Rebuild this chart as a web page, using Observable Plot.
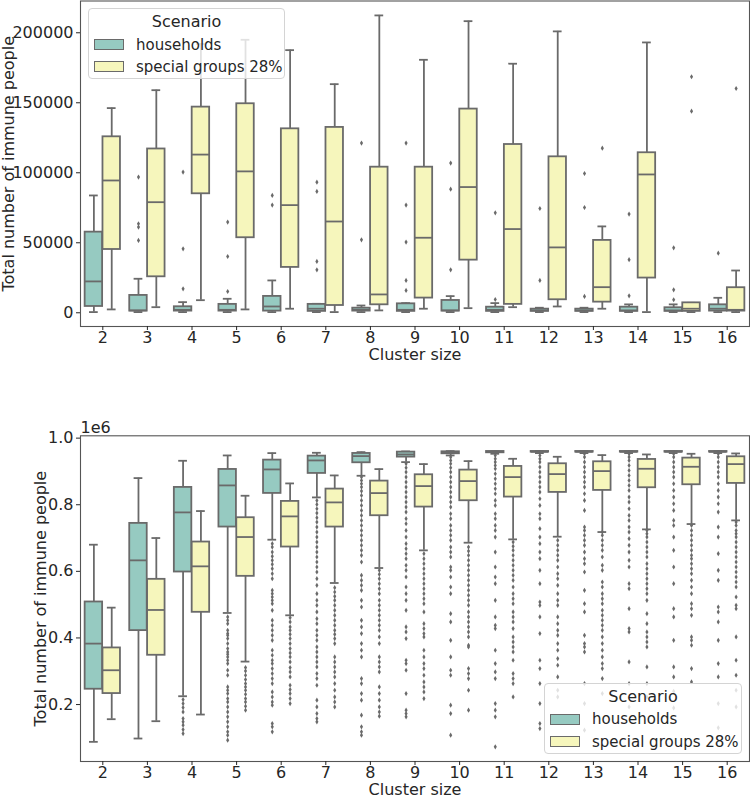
<!DOCTYPE html>
<html>
<head>
<meta charset="utf-8">
<script src="https://cdn.jsdelivr.net/npm/d3@7"></script>
<script src="https://cdn.jsdelivr.net/npm/@observablehq/plot@0.6"></script>
<style>
  body { margin: 0; background: #fff; font-family: "DejaVu Sans", sans-serif; }
  #wrap { position: relative; width: 750px; height: 795px; overflow: hidden; }
  #wrap svg { position: absolute; left: 0; }
  .legend { position: absolute; background: rgba(255,255,255,0.8); border: 1px solid #d4d4d4; border-radius: 4px; box-sizing: border-box; color: #262626; font-size: 15px; }
  .legend .title { position: absolute; left: 0; right: 0; text-align: center; line-height: 18px; font-size: 16px; }
  .legend .sw { position: absolute; width: 30px; height: 11px; box-sizing: border-box; border: 1px solid #6a6a6a; }
  .legend .lab { position: absolute; line-height: 18px; white-space: nowrap; }
</style>
</head>
<body>
<div id="wrap"></div>
<script>
// ---------- data ----------
const clusters = [2, 3, 4, 5, 6, 7, 8, 9, 10, 11, 12, 13, 14, 15, 16];
const scenarios = ["households", "special groups 28%"];
const scenarioColors = ["#96cac1", "#f6f6bc"];
const topYTicks = [0, 50000, 100000, 150000, 200000];
const bottomYTicks = [0.2, 0.4, 0.6, 0.8, 1.0];

// top panel: [whisker low, q1, median, q3, whisker high]
const topHouseholds = [
  [500, 4500, 22400, 57600, 83800],
  [500, 1200, 1700, 12400, 24300],
  [500, 1200, 2100, 4300, 7600],
  [500, 1200, 2100, 6000, 10000],
  [500, 1200, 4500, 11700, 23100],
  [500, 1000, 2900, 6000, 6400],
  [500, 1200, 2100, 3300, 5200],
  [500, 1000, 2100, 6400, 6900],
  [500, 1200, 1700, 8800, 11900],
  [500, 1000, 2100, 4000, 6900],
  [500, 1000, 1700, 2600, 3600],
  [500, 1000, 1700, 2600, 3600],
  [500, 1000, 1700, 4000, 6000],
  [500, 1000, 1700, 3600, 6000],
  [500, 1200, 2900, 5700, 10700]
];
const topSpecial = [
  [2400, 45200, 94500, 125700, 146200],
  [4000, 25700, 79000, 117000, 159000],
  [9000, 85000, 113000, 146900, 192000],
  [2400, 53600, 101000, 149300, 195000],
  [2900, 32400, 76900, 131400, 187600],
  [500, 5200, 65200, 132400, 163300],
  [1700, 5700, 13100, 104000, 212400],
  [2900, 10500, 53600, 104000, 180700],
  [3300, 37600, 89800, 145500, 208300],
  [4000, 6000, 59800, 120200, 177900],
  [4500, 9300, 46700, 111400, 201000],
  [2900, 7600, 18300, 51700, 61700],
  [500, 24800, 98800, 114300, 193100],
  [500, 1000, 2900, 7100, 7100],
  [500, 1200, 2100, 17900, 30200]
];
const topHouseholdsOutliers = [
  [],
  [96900, 63600, 61200, 51700],
  [100500, 45700, 17100],
  [64800, 40200, 15200],
  [83800, 76900],
  [93300, 86700, 36700, 30700],
  [121200, 52100],
  [121200, 76900, 50500, 23100, 16000],
  [106900, 88300, 30700],
  [71400, 9500],
  [74500, 23100],
  [99500, 75200, 11700],
  [70500, 37900, 12100],
  [46400, 16400, 9300],
  [42600]
];
const topSpecialOutliers = [
  [], [], [], [], [], [], [], [], [], [], [],
  [117600],
  [],
  [168600, 144000],
  [160200]
];

// bottom panel (values in units of 1e6)
const bottomHouseholds = [
  [0.088, 0.246, 0.383, 0.508, 0.680],
  [0.098, 0.422, 0.633, 0.744, 0.880],
  [0.225, 0.598, 0.777, 0.852, 0.932],
  [0.475, 0.733, 0.858, 0.906, 0.948],
  [0.695, 0.834, 0.906, 0.934, 0.955],
  [0.822, 0.894, 0.933, 0.946, 0.956],
  [0.887, 0.926, 0.946, 0.954, 0.958],
  [0.928, 0.943, 0.951, 0.958, 0.960],
  [0.948, 0.953, 0.957, 0.959, 0.961],
  [0.953, 0.956, 0.958, 0.960, 0.961],
  [0.955, 0.958, 0.959, 0.960, 0.961],
  [0.955, 0.958, 0.959, 0.960, 0.961],
  [0.955, 0.958, 0.959, 0.960, 0.961],
  [0.955, 0.958, 0.959, 0.960, 0.961],
  [0.955, 0.958, 0.959, 0.960, 0.961]
];
const bottomSpecial = [
  [0.156, 0.233, 0.303, 0.370, 0.491],
  [0.150, 0.348, 0.484, 0.576, 0.700],
  [0.170, 0.477, 0.615, 0.688, 0.781],
  [0.329, 0.585, 0.703, 0.761, 0.827],
  [0.468, 0.673, 0.765, 0.810, 0.864],
  [0.565, 0.733, 0.807, 0.847, 0.888],
  [0.610, 0.767, 0.835, 0.871, 0.907],
  [0.663, 0.793, 0.856, 0.890, 0.922],
  [0.686, 0.812, 0.871, 0.904, 0.931],
  [0.696, 0.823, 0.883, 0.915, 0.938],
  [0.704, 0.837, 0.892, 0.923, 0.944],
  [0.718, 0.843, 0.901, 0.929, 0.949],
  [0.726, 0.851, 0.908, 0.936, 0.951],
  [0.742, 0.860, 0.914, 0.940, 0.953],
  [0.753, 0.864, 0.922, 0.944, 0.954]
];
const bottomHouseholdsOutliers = [
  [],
  [],
  [0.215, 0.203, 0.191, 0.178, 0.158, 0.148, 0.138, 0.125, 0.113],
  [0.463, 0.453, 0.443, 0.423, 0.413, 0.408, 0.398, 0.383, 0.368, 0.358, 0.351, 0.343, 0.333, 0.323, 0.303, 0.288, 0.253, 0.243, 0.233, 0.218, 0.208, 0.193, 0.178, 0.163, 0.148, 0.133, 0.118, 0.108, 0.093],
  [0.683, 0.673, 0.658, 0.645, 0.633, 0.621, 0.608, 0.593, 0.578, 0.543, 0.533, 0.523, 0.513, 0.503, 0.483, 0.453, 0.438, 0.423, 0.408, 0.393, 0.363, 0.348, 0.333, 0.323, 0.308, 0.293, 0.278, 0.263, 0.238, 0.223, 0.208, 0.198, 0.143, 0.133, 0.118],
  [0.813, 0.801, 0.788, 0.775, 0.761, 0.748, 0.733, 0.718, 0.703, 0.688, 0.673, 0.658, 0.643, 0.628, 0.613, 0.598, 0.578, 0.558, 0.533, 0.513, 0.498, 0.478, 0.458, 0.443, 0.423, 0.408, 0.393, 0.373, 0.358, 0.343, 0.328, 0.313, 0.293, 0.278, 0.258, 0.213, 0.193, 0.173, 0.158, 0.148],
  [0.883, 0.873, 0.863, 0.853, 0.841, 0.828, 0.813, 0.798, 0.783, 0.768, 0.753, 0.738, 0.723, 0.708, 0.693, 0.678, 0.663, 0.648, 0.628, 0.588, 0.573, 0.558, 0.543, 0.513, 0.493, 0.453, 0.433, 0.413, 0.383, 0.363, 0.343, 0.278, 0.263, 0.233, 0.213, 0.168, 0.133, 0.118, 0.108],
  [0.923, 0.911, 0.898, 0.883, 0.868, 0.853, 0.838, 0.823, 0.808, 0.793, 0.778, 0.758, 0.743, 0.723, 0.703, 0.683, 0.668, 0.653, 0.638, 0.618, 0.603, 0.583, 0.553, 0.533, 0.513, 0.483, 0.433, 0.418, 0.398, 0.333, 0.323, 0.303, 0.233, 0.183, 0.173, 0.163],
  [0.943, 0.933, 0.923, 0.911, 0.898, 0.883, 0.868, 0.853, 0.838, 0.823, 0.808, 0.793, 0.773, 0.758, 0.738, 0.723, 0.708, 0.693, 0.673, 0.658, 0.643, 0.613, 0.603, 0.583, 0.553, 0.533, 0.473, 0.448, 0.393, 0.343, 0.303, 0.288, 0.198, 0.173, 0.108],
  [0.948, 0.938, 0.928, 0.918, 0.908, 0.893, 0.878, 0.863, 0.848, 0.833, 0.813, 0.798, 0.773, 0.758, 0.738, 0.723, 0.703, 0.658, 0.613, 0.583, 0.563, 0.513, 0.463, 0.438, 0.428, 0.363, 0.323, 0.298, 0.278, 0.203, 0.183, 0.163, 0.073],
  [0.948, 0.938, 0.928, 0.913, 0.898, 0.883, 0.868, 0.853, 0.838, 0.818, 0.798, 0.773, 0.758, 0.728, 0.703, 0.683, 0.658, 0.638, 0.603, 0.563, 0.508, 0.498, 0.463, 0.413, 0.333, 0.308, 0.263, 0.203, 0.143, 0.128],
  [0.953, 0.943, 0.928, 0.913, 0.898, 0.883, 0.868, 0.853, 0.833, 0.813, 0.783, 0.733, 0.723, 0.708, 0.693, 0.678, 0.658, 0.638, 0.623, 0.598, 0.543, 0.503, 0.478, 0.408, 0.383, 0.373, 0.358, 0.263, 0.203, 0.123],
  [0.953, 0.943, 0.933, 0.918, 0.903, 0.888, 0.873, 0.858, 0.843, 0.823, 0.808, 0.788, 0.768, 0.753, 0.733, 0.718, 0.698, 0.678, 0.658, 0.633, 0.613, 0.563, 0.548, 0.488, 0.428, 0.418, 0.328, 0.263, 0.193],
  [0.953, 0.943, 0.928, 0.913, 0.898, 0.883, 0.863, 0.843, 0.823, 0.803, 0.783, 0.753, 0.738, 0.703, 0.663, 0.613, 0.563, 0.488, 0.463, 0.393, 0.313, 0.283, 0.240, 0.190],
  [0.953, 0.943, 0.928, 0.913, 0.898, 0.883, 0.863, 0.843, 0.823, 0.803, 0.778, 0.733, 0.703, 0.653, 0.603, 0.573, 0.493, 0.478, 0.448, 0.393, 0.323, 0.283, 0.203, 0.130]
];
const bottomSpecialOutliers = [
  [],
  [],
  [],
  [0.311, 0.301, 0.288, 0.275, 0.263, 0.253, 0.243, 0.231, 0.218, 0.208, 0.195, 0.183],
  [0.461, 0.448, 0.433, 0.423, 0.411, 0.398, 0.383, 0.368, 0.355, 0.343, 0.328, 0.311, 0.298, 0.283, 0.258, 0.245, 0.233, 0.218, 0.203],
  [0.551, 0.538, 0.525, 0.513, 0.498, 0.483, 0.468, 0.453, 0.438, 0.423, 0.411, 0.398, 0.383, 0.343, 0.328, 0.313, 0.298, 0.283, 0.263, 0.243, 0.223, 0.208, 0.193],
  [0.603, 0.591, 0.578, 0.563, 0.548, 0.533, 0.513, 0.498, 0.483, 0.468, 0.453, 0.438, 0.423, 0.403, 0.383, 0.343, 0.328, 0.313, 0.298, 0.253, 0.233, 0.213, 0.193, 0.178, 0.165],
  [0.653, 0.638, 0.623, 0.608, 0.593, 0.578, 0.563, 0.548, 0.533, 0.518, 0.503, 0.478, 0.443, 0.428, 0.413, 0.403, 0.363, 0.343, 0.323, 0.308, 0.288, 0.268, 0.253, 0.238, 0.218],
  [0.673, 0.661, 0.648, 0.633, 0.618, 0.603, 0.588, 0.573, 0.558, 0.543, 0.528, 0.513, 0.498, 0.478, 0.463, 0.448, 0.433, 0.418, 0.403, 0.378, 0.373, 0.308, 0.293, 0.278, 0.243, 0.183],
  [0.688, 0.675, 0.663, 0.648, 0.633, 0.618, 0.603, 0.588, 0.573, 0.553, 0.533, 0.518, 0.503, 0.478, 0.463, 0.448, 0.428, 0.403, 0.388, 0.373, 0.358, 0.333, 0.293, 0.278, 0.263, 0.223],
  [0.693, 0.678, 0.663, 0.648, 0.633, 0.613, 0.593, 0.578, 0.558, 0.533, 0.513, 0.498, 0.463, 0.443, 0.423, 0.408, 0.383, 0.363, 0.338, 0.318, 0.283, 0.243, 0.223],
  [0.718, 0.708, 0.693, 0.678, 0.663, 0.643, 0.618, 0.603, 0.568, 0.553, 0.533, 0.518, 0.503, 0.483, 0.468, 0.453, 0.438, 0.423, 0.403, 0.383, 0.363, 0.343, 0.323, 0.308, 0.278, 0.233],
  [0.723, 0.713, 0.703, 0.688, 0.673, 0.658, 0.643, 0.623, 0.608, 0.593, 0.578, 0.563, 0.548, 0.533, 0.513, 0.473, 0.443, 0.418, 0.403, 0.388, 0.373, 0.313, 0.263, 0.223],
  [0.738, 0.723, 0.708, 0.693, 0.678, 0.663, 0.648, 0.638, 0.623, 0.608, 0.593, 0.573, 0.553, 0.533, 0.503, 0.488, 0.468, 0.403, 0.393, 0.378, 0.308, 0.268],
  [0.748, 0.738, 0.723, 0.713, 0.703, 0.688, 0.673, 0.658, 0.643, 0.628, 0.613, 0.598, 0.583, 0.568, 0.553, 0.523, 0.498, 0.488, 0.403, 0.333, 0.288, 0.243, 0.193]
];

// ---------- helpers ----------
const GRAY = "#6a6a6a";
const TEXT = "#262626";
const offset = {[scenarios[0]]: -0.2, [scenarios[1]]: 0.2};
const HALF = 0.196, CAP = 0.098;

function boxes(stats, scenario) {
  return stats.map((s, i) => ({cluster: clusters[i], scenario, low: s[0], q1: s[1], median: s[2], q3: s[3], high: s[4]}));
}
function fliers(lists, scenario) {
  return lists.flatMap((l, i) => l.map(v => ({cluster: clusters[i], scenario, value: v})));
}
const cx = d => d.cluster + offset[d.scenario];

const thinDiamond = {
  draw(context, size) {
    const r = Math.sqrt(size / Math.PI);
    const w = r * 0.6;
    context.moveTo(0, -r);
    context.lineTo(w, 0);
    context.lineTo(0, r);
    context.lineTo(-w, 0);
    context.closePath();
  }
};

function panel({boxData, flierData, height, marginTop, marginBottom, yDomain, yTicks, yFormat, yLabelDx, extra}) {
  return Plot.plot({
    width: 750,
    height,
    marginLeft: 80,
    marginRight: 1,
    marginTop,
    marginBottom,
    style: {fontFamily: "DejaVu Sans", fontSize: "16px", color: TEXT, background: "white", overflow: "visible"},
    x: {type: "linear", domain: [1.5, 16.5]},
    y: {domain: yDomain},
    color: {domain: scenarios, range: scenarioColors},
    marks: [
      Plot.ruleX(boxData, {x: cx, y1: "low", y2: "q1", stroke: GRAY, strokeWidth: 1.8}),
      Plot.ruleX(boxData, {x: cx, y1: "q3", y2: "high", stroke: GRAY, strokeWidth: 1.8}),
      Plot.ruleY(boxData, {x1: d => cx(d) - CAP, x2: d => cx(d) + CAP, y: "low", stroke: GRAY, strokeWidth: 1.8}),
      Plot.ruleY(boxData, {x1: d => cx(d) - CAP, x2: d => cx(d) + CAP, y: "high", stroke: GRAY, strokeWidth: 1.8}),
      Plot.rect(boxData, {x1: d => cx(d) - HALF, x2: d => cx(d) + HALF, y1: "q1", y2: "q3", fill: "scenario", stroke: GRAY, strokeWidth: 1.8}),
      Plot.ruleY(boxData, {x1: d => cx(d) - HALF, x2: d => cx(d) + HALF, y: "median", stroke: GRAY, strokeWidth: 1.8}),
      Plot.dot(flierData, {x: cx, y: "value", symbol: thinDiamond, r: 2.6, fill: GRAY, stroke: "none"}),
      Plot.frame({stroke: "#555", strokeWidth: 1.1}),
      Plot.axisX({ticks: clusters, tickFormat: d => String(d), tickSize: 4, tickPadding: 1, label: null, stroke: TEXT}),
      Plot.axisY({ticks: yTicks, tickFormat: yFormat, tickSize: 4, tickPadding: 3, label: null, stroke: TEXT}),
      Plot.text(["Cluster size"], {frameAnchor: "bottom", dy: 28, lineAnchor: "middle", textAnchor: "middle", text: d => d, fill: TEXT}),
      Plot.text(["Total number of immune people"], {frameAnchor: "left", dx: yLabelDx, rotate: -90, textAnchor: "middle", lineAnchor: "middle", text: d => d, fill: TEXT}),
      ...(extra || [])
    ]
  });
}

const wrap = document.getElementById("wrap");

const topPlot = panel({
  boxData: [...boxes(topHouseholds, scenarios[0]), ...boxes(topSpecial, scenarios[1])],
  flierData: [...fliers(topHouseholdsOutliers, scenarios[0]), ...fliers(topSpecialOutliers, scenarios[1])],
  height: 365, marginTop: 0.5, marginBottom: 39,
  yDomain: [-9800, 222700], yTicks: topYTicks, yFormat: d3.format("d"), yLabelDx: -72
});
topPlot.style.top = "0px";
wrap.appendChild(topPlot);

const bottomPlot = panel({
  boxData: [...boxes(bottomHouseholds, scenarios[0]), ...boxes(bottomSpecial, scenarios[1])],
  flierData: [...fliers(bottomHouseholdsOutliers, scenarios[0]), ...fliers(bottomSpecialOutliers, scenarios[1])],
  height: 430, marginTop: 70.3, marginBottom: 34,
  yDomain: [0.029, 1.007], yTicks: bottomYTicks, yFormat: d3.format(".1f"), yLabelDx: -40,
  extra: [Plot.text(["1e6"], {frameAnchor: "top-left", dy: -8, textAnchor: "start", lineAnchor: "middle", text: d => d, fill: TEXT})]
});
bottomPlot.style.top = "365px";
wrap.appendChild(bottomPlot);

// ---------- legends ----------
function legend(box, sw, labX, rows, titleY) {
  const el = document.createElement("div");
  el.className = "legend";
  Object.assign(el.style, {left: box[0] + "px", top: box[1] + "px", width: (box[2] - box[0]) + "px", height: (box[3] - box[1]) + "px"});
  const t = document.createElement("div");
  t.className = "title"; t.textContent = "Scenario"; t.style.top = (titleY - box[1] - 9) + "px";
  el.appendChild(t);
  scenarios.forEach((s, i) => {
    const p = document.createElement("div");
    p.className = "sw";
    p.style.background = scenarioColors[i];
    p.style.left = (sw - box[0]) + "px";
    p.style.top = (rows[i] - box[1] - 5.5) + "px";
    el.appendChild(p);
    const l = document.createElement("div");
    l.className = "lab"; l.textContent = s;
    l.style.left = (labX - box[0]) + "px";
    l.style.top = (rows[i] - box[1] - 9) + "px";
    el.appendChild(l);
  });
  wrap.appendChild(el);
}
legend([88, 8, 285, 79], 93, 135, [43.5, 65.5], 21);
legend([544, 683, 742, 754], 549, 591, [718, 740.5], 696);
</script>
</body>
</html>
